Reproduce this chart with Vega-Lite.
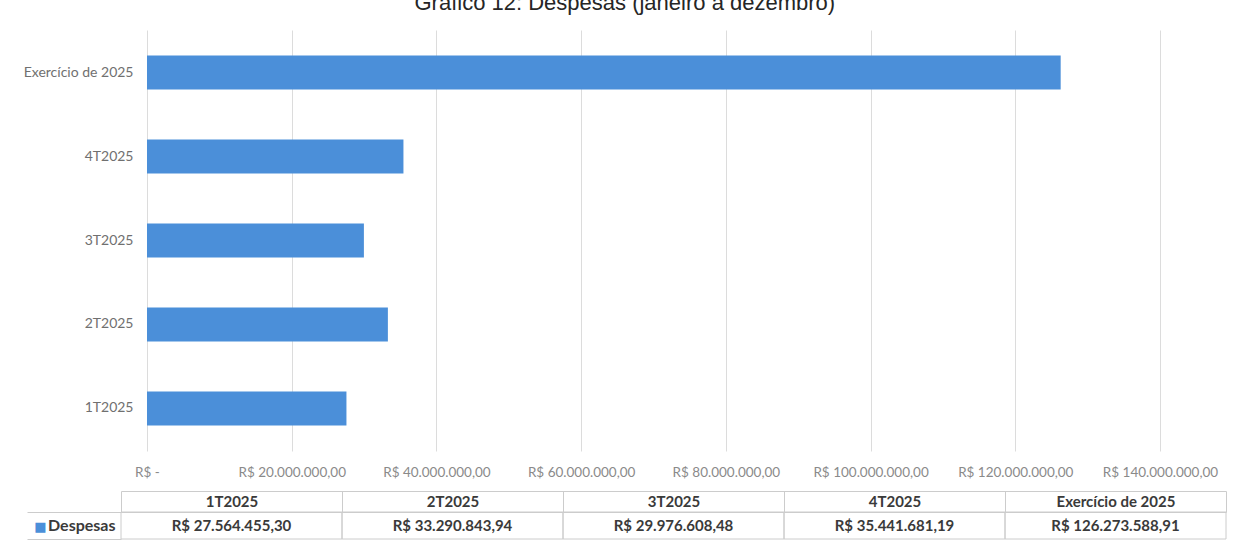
{
  "$schema": "https://vega.github.io/schema/vega-lite/v6.json",
  "padding": {"left": 23, "top": -8, "right": 5, "bottom": 5},
  "background": "white",
  "title": {
    "text": "Gráfico 12: Despesas (janeiro a dezembro)",
    "font": "Liberation Sans",
    "fontSize": 22,
    "fontWeight": "normal",
    "color": "#262626",
    "offset": 15,
    "anchor": "middle"
  },
  "config": {
    "locale": {
      "number": {"decimal": ",", "thousands": ".", "grouping": [3], "currency": ["R$ ", ""]}
    },
    "view": {"stroke": null},
    "concat": {"spacing": 11}
  },
  "data": {
    "values": [
      {"periodo": "1T2025", "valor": 27564455.30},
      {"periodo": "2T2025", "valor": 33290843.94},
      {"periodo": "3T2025", "valor": 29976608.48},
      {"periodo": "4T2025", "valor": 35441681.19},
      {"periodo": "Exercício de 2025", "valor": 126273588.91}
    ]
  },
  "vconcat": [
    {
      "width": 1039,
      "height": 421,
      "mark": {"type": "bar", "color": "#4b8fd9"},
      "encoding": {
        "y": {
          "field": "periodo",
          "type": "nominal",
          "sort": ["Exercício de 2025", "4T2025", "3T2025", "2T2025", "1T2025"],
          "scale": {"paddingInner": 0.595, "paddingOuter": 0.304},
          "axis": {
            "title": null,
            "domain": false,
            "ticks": false,
            "grid": false,
            "labelPadding": -12,
            "labelFont": "Lato",
            "labelFontSize": 14,
            "labelColor": "#707070"
          }
        },
        "x": {
          "field": "valor",
          "type": "quantitative",
          "scale": {"domain": [-3593000, 140000000], "nice": false, "zero": false},
          "axis": {
            "title": null,
            "values": [0, 20000000, 40000000, 60000000, 80000000, 100000000, 120000000, 140000000],
            "format": "$,.2f",
            "labelExpr": "datum.value === 0 ? 'R$ -' : datum.label",
            "labelOverlap": false,
            "labelFlush": false,
            "domain": false,
            "ticks": false,
            "grid": true,
            "gridColor": "#dcdcdc",
            "gridWidth": 1,
            "labelPadding": 14,
            "labelFont": "Lato",
            "labelFontSize": 13.5,
            "labelColor": "#8a8a8a"
          }
        },
        "x2": {"datum": 0}
      }
    },
    {
      "width": 1105,
      "height": 27,
      "resolve": {"axis": {"x": "independent"}},
      "layer": [
        {
          "mark": {"type": "rect", "fill": "transparent", "stroke": "#cccccc", "strokeWidth": 1},
          "encoding": {
            "x": {
              "field": "periodo",
              "type": "nominal",
              "sort": ["1T2025", "2T2025", "3T2025", "4T2025", "Exercício de 2025"],
              "scale": {"paddingInner": 0, "paddingOuter": 0},
              "axis": {
                "orient": "top",
                "title": null,
                "labelAngle": 0,
                "labelFont": "Lato",
                "labelFontWeight": "bold",
                "labelFontSize": 15,
                "labelColor": "#3a3a3a",
                "labelPadding": -18,
                "tickBand": "extent",
                "tickSize": 21,
                "tickColor": "#cccccc",
                "domain": true,
                "domainColor": "#cccccc",
                "grid": false
              }
            },
            "y": {
              "datum": "Despesas",
              "type": "nominal",
              "scale": {"paddingInner": 0, "paddingOuter": 0},
              "axis": {
                "title": "■",
                "titleAngle": 0,
                "titleX": -81,
                "titleY": 14,
                "titleColor": "#4b8fd9",
                "titleFont": "DejaVu Sans",
                "titleFontSize": 13,
                "titleFontWeight": "normal",
                "titleAlign": "center",
                "titleBaseline": "middle",
                "labelFont": "Lato",
                "labelFontWeight": "bold",
                "labelFontSize": 16,
                "labelColor": "#3a3a3a",
                "labelPadding": -88,
                "domain": false,
                "grid": false,
                "ticks": true,
                "tickBand": "extent",
                "tickSize": 94,
                "tickColor": "#cccccc"
              }
            }
          }
        },
        {
          "mark": {"type": "text", "font": "Lato", "fontWeight": "bold", "fontSize": 15, "color": "#3a3a3a", "align": "center", "baseline": "middle"},
          "encoding": {
            "x": {
              "field": "periodo",
              "type": "nominal",
              "sort": ["1T2025", "2T2025", "3T2025", "4T2025", "Exercício de 2025"],
              "axis": {
                "orient": "top",
                "offset": 21,
                "title": null,
                "labels": false,
                "ticks": false,
                "grid": false,
                "domain": true,
                "domainColor": "#cccccc"
              }
            },
            "y": {"datum": "Despesas", "type": "nominal"},
            "text": {"field": "valor", "type": "quantitative", "format": "$,.2f"}
          }
        }
      ]
    }
  ]
}
